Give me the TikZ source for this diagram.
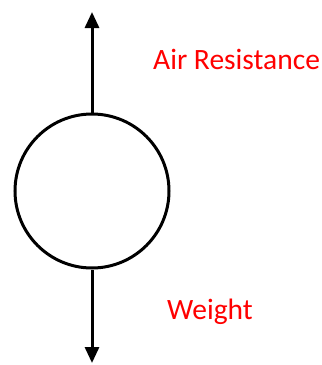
\documentclass[tikz,border=0pt]{standalone}
\usepackage{fontspec}
\setmainfont{Carlito}
\usetikzlibrary{arrows.meta}
\begin{document}
\begin{tikzpicture}[x=1pt,y=-1pt,
  force/.style={line width=3pt,-{Triangle[width=14pt,length=16pt]}},
  lbl/.style={text=red,font=\fontsize{29.5}{34}\selectfont,inner sep=0pt}]
\useasboundingbox (0,0) rectangle (322,365);
\node[circle,draw,line width=3pt,minimum size=154pt,inner sep=0pt] (body) at (92,191) {};
\coordinate (top) at (92,12);
\coordinate (bot) at (92,363);
\draw[force] (body.north) -- (top);
\draw[force] (body.south) -- (bot);
\node[lbl,anchor=west] (air) at (153,59) {Air Resistance};
\node[lbl,anchor=west] (w) at (167,312) {Weight};
\end{tikzpicture}
\end{document}
